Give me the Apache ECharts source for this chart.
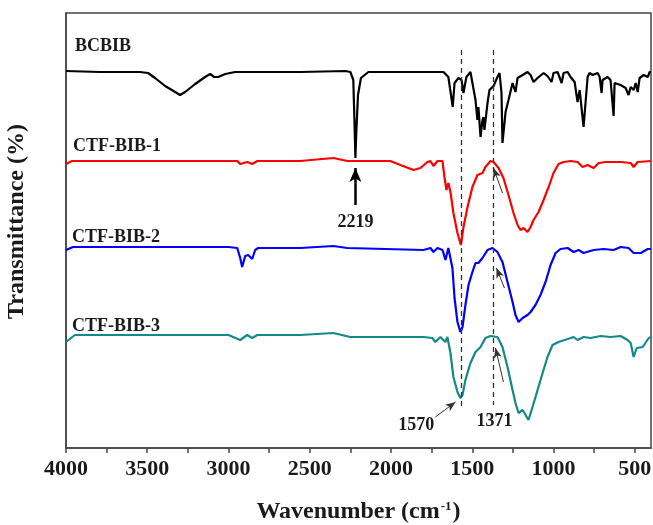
<!DOCTYPE html>
<html><head><meta charset="utf-8">
<script src="https://cdn.jsdelivr.net/npm/echarts@6/dist/echarts.min.js"></script>
<style>html,body{margin:0;padding:0;background:#fff}#c{width:653px;height:525px}</style>
</head><body><div id="c"></div>
<script>
// X axis ticks (wavenumber, cm-1)
const tickLabels = [4000, 3500, 3000, 2500, 2000, 1500, 1000, 500];
const tickMarks = [4000, 3750, 3500, 3250, 3000, 2750, 2500, 2250, 2000, 1750, 1500, 1250, 1000, 750, 500];
const seriesNames = ['BCBIB', 'CTF-BIB-1', 'CTF-BIB-2', 'CTF-BIB-3'];
const seriesColors = ['#000000', '#ff0000', '#0000ff', '#138a88'];

// [wavenumber, offset transmittance (a.u.)]
const bcbib = [[4000,377],[3791,376],[3544,376],[3495,375],[3452,370],[3390,362],[3328,356],[3298,353],[3267,356],[3205,364],[3144,371],[3113,374],[3088,371],[3064,371],[3020,374],[2959,376],[2558,376],[2281,377],[2250,376],[2232,368],[2225,328],[2219,290],[2213,318],[2203,353],[2185,370],[2139,376],[1757,376],[1696,376],[1677,376],[1647,371],[1620,341],[1609,365],[1585,370],[1566,368],[1554,355],[1536,371],[1511,376],[1499,375],[1480,348],[1468,328],[1462,341],[1449,311],[1437,328],[1431,331],[1425,318],[1406,345],[1394,358],[1369,362],[1345,371],[1332,375],[1320,355],[1314,305],[1295,336],[1277,348],[1252,365],[1234,356],[1221,370],[1190,373],[1160,376],[1141,373],[1123,366],[1098,370],[1061,375],[1037,372],[1012,366],[1000,375],[975,376],[950,365],[938,375],[913,376],[895,371],[870,366],[852,346],[839,358],[815,321],[790,371],[778,375],[759,373],[747,375],[728,375],[716,371],[704,355],[698,368],[667,371],[649,368],[630,332],[624,365],[587,363],[556,360],[538,353],[525,361],[507,358],[494,365],[482,356],[470,370],[445,373],[433,375],[420,371],[408,376],[400,376]];
const ctf1 = [[4000,284],[3963,287],[3500,287],[3000,287],[2946,287],[2928,284],[2885,286],[2854,284],[2823,287],[2558,287],[2355,290],[2269,287],[2004,287],[1942,283],[1862,278],[1819,280],[1776,286],[1757,287],[1739,282],[1714,287],[1683,287],[1671,271],[1659,258],[1647,265],[1634,256],[1616,235],[1591,215],[1570,203],[1554,221],[1529,241],[1499,261],[1468,273],[1437,275],[1419,281],[1388,287],[1369,286],[1338,280],[1308,270],[1277,253],[1246,235],[1221,223],[1203,218],[1184,220],[1160,216],[1141,221],[1123,228],[1092,236],[1061,248],[1030,261],[1000,275],[969,284],[938,286],[895,287],[852,286],[821,281],[790,283],[753,280],[722,285],[679,286],[630,286],[587,286],[525,285],[507,281],[482,286],[400,287]];
const ctf2 = [[4000,198],[3957,201],[3500,201],[3000,201],[2946,200],[2928,190],[2916,181],[2897,192],[2879,193],[2854,189],[2836,198],[2817,200],[2558,200],[2355,202],[2269,200],[1800,198],[1757,200],[1739,196],[1714,200],[1683,198],[1665,188],[1647,200],[1622,180],[1609,150],[1591,126],[1573,116],[1560,121],[1542,143],[1523,163],[1499,176],[1480,185],[1462,185],[1437,190],[1406,198],[1375,200],[1345,196],[1314,186],[1283,166],[1252,146],[1234,133],[1215,126],[1190,130],[1160,133],[1141,136],[1111,143],[1080,153],[1049,166],[1018,183],[987,195],[957,199],[913,200],[876,196],[845,198],[815,195],[753,198],[692,199],[630,198],[587,201],[538,200],[507,195],[463,195],[420,199],[400,199]];
const ctf3 = [[4000,106],[3945,113],[3500,113],[3000,113],[2928,108],[2885,113],[2854,110],[2823,113],[2558,113],[2355,115],[2250,111],[1800,111],[1745,110],[1727,106],[1696,111],[1665,106],[1653,111],[1634,95],[1616,71],[1591,56],[1573,50],[1560,53],[1542,68],[1511,85],[1480,96],[1449,101],[1419,110],[1388,112],[1345,111],[1314,101],[1283,81],[1252,58],[1234,45],[1215,35],[1190,38],[1178,40],[1154,28],[1129,41],[1098,58],[1067,75],[1037,91],[1006,103],[969,106],[913,109],[876,111],[852,108],[815,111],[772,110],[710,112],[649,111],[587,112],[544,108],[525,105],[507,91],[488,100],[451,101],[414,110],[400,111]];
const allSeries = [bcbib, ctf1, ctf2, ctf3];

// annotation anchors [wavenumber, value]
const nameAnchors = [[3945,402],[3957,302],[3963,211],[3963,122]];
const peakTexts = [['2219',[2219,226]],['1570',[1844,23]],['1371',[1363,27]]];
const dashedLines = [[1570,398,39],[1371,398,43]];
const bigArrow = [[2219,243],[2219,280]];
const smallArrows = [[[1727,31],[1603,46]],[[1314,255],[1369,280]],[[1302,160],[1351,180]],[[1308,66],[1357,100]]];

const FONT = 'Liberation Serif';
const chart = echarts.init(document.getElementById('c'));

const series = allSeries.map((d, i) => ({
  type: 'line', name: seriesNames[i], data: d, showSymbol: false, symbol: 'none',
  lineStyle: {color: seriesColors[i], width: 2.2}, itemStyle: {color: seriesColors[i]},
  silent: true, z: 3,
  markPoint: {
    symbol: 'circle', symbolSize: 0, silent: true,
    data: [{coord: nameAnchors[i], value: seriesNames[i]}],
    label: {show: true, position: 'right', distance: 0, formatter: seriesNames[i],
      fontFamily: FONT, fontWeight: 'bold', fontSize: 18, color: '#1a1a1a'}
  }
}));

series.push({
  type: 'line', name: 'annot', data: [], silent: true, z: 5,
  markPoint: {
    symbol: 'circle', symbolSize: 0, silent: true,
    data: peakTexts.map(p => ({coord: p[1], value: p[0]})),
    label: {show: true, position: 'inside', formatter: p => p.data.value,
      fontFamily: FONT, fontWeight: 'bold', fontSize: 18, color: '#1a1a1a'}
  },
  markLine: {
    silent: true, symbol: ['none', 'none'], label: {show: false},
    data: [
      ...dashedLines.map(l => [{coord: [l[0], l[1]], lineStyle: {type: [5, 4], color: '#333', width: 1.3}},
                                {coord: [l[0], l[2]]}]),
      [{coord: bigArrow[0], symbol: 'none', lineStyle: {type: 'solid', color: '#000', width: 2.5}},
       {coord: bigArrow[1], symbol: 'arrow', symbolSize: [9, 14]}],
      ...smallArrows.map(a => [{coord: a[0], symbol: 'none', lineStyle: {type: 'solid', color: '#333', width: 1}},
                               {coord: a[1], symbol: 'arrow', symbolSize: [6, 10]}])
    ]
  }
});

chart.setOption({
  animation: false,
  backgroundColor: '#fff',
  grid: {left: 66, right: 2, top: 13, bottom: 77, show: true, borderColor: '#444', borderWidth: 1.5,
    backgroundColor: 'transparent', containLabel: false, outerBoundsMode: 'none'},
  xAxis: {
    type: 'value', inverse: true, min: 400, max: 4000,
    name: '{a|Wavenumber (cm}{s|-1}{a|)}', nameLocation: 'middle', nameGap: 52,
    nameTextStyle: {rich: {
      a: {fontFamily: FONT, fontWeight: 'bold', fontSize: 24, color: '#1a1a1a'},
      s: {fontFamily: FONT, fontWeight: 'bold', fontSize: 13, color: '#1a1a1a', verticalAlign: 'top', padding: [0, 1, 11, 1]}
    }},
    axisLine: {show: true, lineStyle: {color: '#444', width: 1.5}},
    axisTick: {show: true, inside: false, length: 5, customValues: tickMarks, lineStyle: {color: '#444', width: 1.5}},
    axisLabel: {show: true, customValues: tickLabels, margin: 10, formatter: v => String(v),
      fontFamily: FONT, fontWeight: 'bold', fontSize: 22, color: '#1a1a1a'},
    splitLine: {show: false}
  },
  yAxis: {
    type: 'value', min: 0, max: 435,
    name: 'Transmittance (%)', nameLocation: 'middle', nameGap: 37, nameRotate: 90,
    nameTextStyle: {fontFamily: FONT, fontWeight: 'bold', fontSize: 24, color: '#1a1a1a', padding: [0, 0, 0, 18]},
    axisLine: {show: true, lineStyle: {color: '#444', width: 1.5}},
    axisTick: {show: false}, axisLabel: {show: false}, splitLine: {show: false}
  },
  series
});
</script></body></html>
